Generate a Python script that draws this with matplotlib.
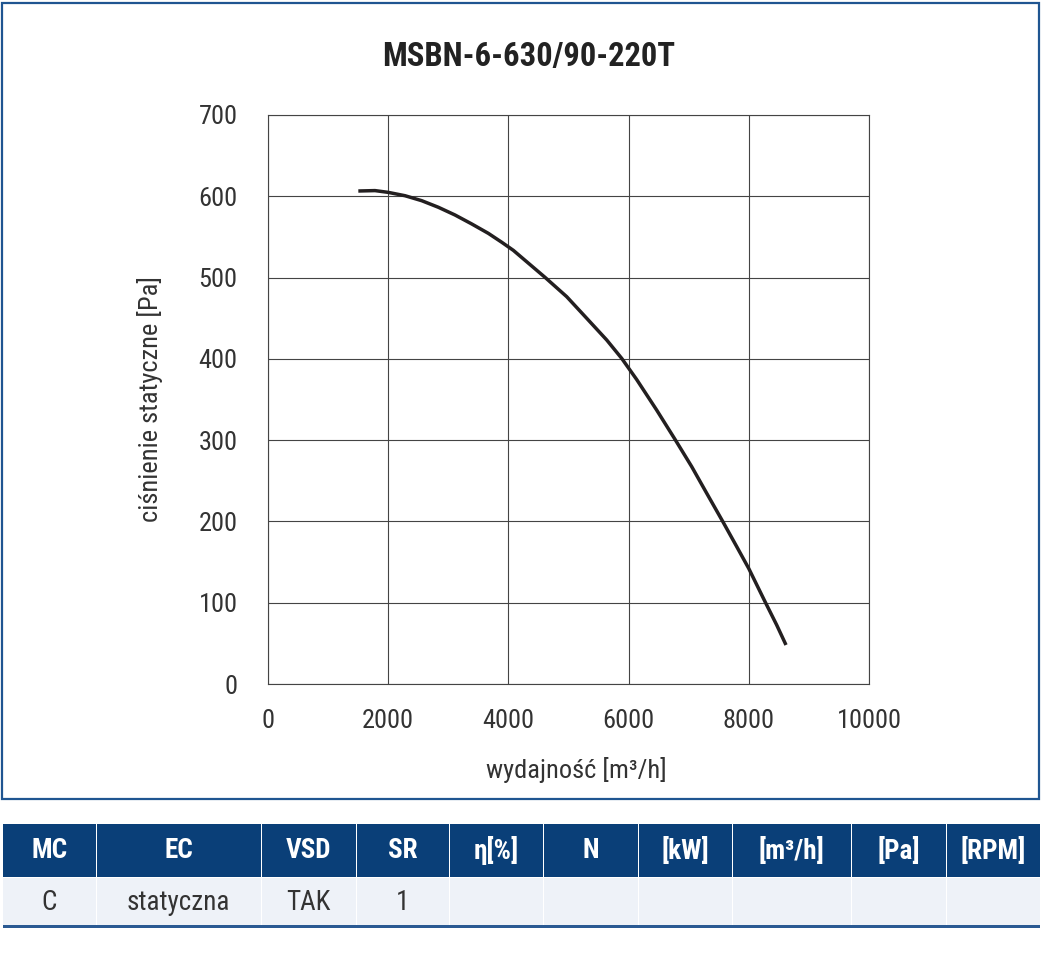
import matplotlib
matplotlib.use("Agg")
import matplotlib.pyplot as plt
import matplotlib.font_manager as fm
from matplotlib.patches import Rectangle

# ---------------- data ----------------
title = "MSBN-6-630/90-220T"
flow = [1503, 1780, 2002, 2280, 2557, 2834, 3111, 3389, 3666, 3888, 4082, 4193,
        4609, 4970, 5303, 5636, 5885, 6135, 6467, 6772, 7050, 7300, 7566, 7799,
        8000, 8270, 8464, 8619]
pressure = [606.5, 607, 604.8, 600.7, 594.6, 586.5, 577, 566, 554.4, 543.5, 533.5, 526.5,
            500.3, 476.5, 449.9, 423.2, 400.6, 374.5, 337, 301, 267.4, 234.6, 200, 169,
            142, 101.3, 72.6, 48]
x_ticks = [0, 2000, 4000, 6000, 8000, 10000]
y_ticks = [0, 100, 200, 300, 400, 500, 600, 700]
x_label = "wydajność [m³/h]"
y_label = "ciśnienie statyczne [Pa]"
table_header = ["MC", "EC", "VSD", "SR", "η[%]", "N", "[kW]", "[m³/h]", "[Pa]", "[RPM]"]
table_row = ["C", "statyczna", "TAK", "1", "", "", "", "", "", ""]

# ---------------- fonts ----------------
names = {f.name for f in fm.fontManager.ttflist}
font = next((n for n in ["Liberation Sans Narrow", "Roboto Condensed", "Open Sans Condensed",
                         "Roboto", "Liberation Sans"] if n in names), "DejaVu Sans")
plt.rcParams["font.family"] = [font, "DejaVu Sans"]

W, H = 1043, 957
fig = plt.figure(figsize=(W / 100, H / 100), dpi=100)

# background overlay in pixel coords
bg = fig.add_axes([0, 0, 1, 1], zorder=0)
bg.set_xlim(0, W)
bg.set_ylim(H, 0)
bg.axis("off")

border_col = "#1f5591"
bg.add_patch(Rectangle((2, 3), 1037, 796, fill=False, edgecolor=border_col, lw=1.6))

# ---------------- chart ----------------
ax = fig.add_axes([268 / W, 1 - 684 / H, (869 - 268) / W, (684 - 115) / H], zorder=1)
grid_col = "#444444"
ax.plot(flow, pressure, color="#231f20", lw=2.5, solid_capstyle="butt",
        solid_joinstyle="round", zorder=3)
ax.set_xlim(0, 10000)
ax.set_ylim(0, 700)
ax.set_xticks(x_ticks)
ax.set_yticks(y_ticks)
ax.grid(True, color=grid_col, lw=0.8)
ax.set_axisbelow(True)
for s in ax.spines.values():
    s.set_color(grid_col)
    s.set_linewidth(0.8)
ax.tick_params(length=0, labelsize=19, colors="#333333")
ax.tick_params(axis="x", pad=18)
ax.tick_params(axis="y", pad=22)
ax.set_xlabel(x_label, fontsize=19, color="#333333", va="center")
ax.xaxis.set_label_coords((576 - 268) / 601, (684 - 770) / 569)
ax.set_ylabel(y_label, fontsize=19, color="#333333", va="center")
ax.yaxis.set_label_coords((150 - 268) / 601, 0.5)

fig.text(529 / W, 1 - 57 / H, title, fontsize=23.5, fontweight="bold", color="#222222",
         ha="center", va="center")

# ---------------- table ----------------
edges = [3, 96, 261, 356, 449, 543, 638, 732, 851, 946, 1040]
head_top, head_bot, row_bot = 824, 877, 925
head_col = "#0a3f78"
row_col = "#eef2f8"
for i, (h, v) in enumerate(zip(table_header, table_row)):
    x0, x1 = edges[i], edges[i + 1]
    gap = 1 if i > 0 else 0
    bg.add_patch(Rectangle((x0 + gap, head_top), x1 - x0 - gap, head_bot - head_top,
                           facecolor=head_col, edgecolor="none"))
    bg.add_patch(Rectangle((x0 + gap, head_bot + 1), x1 - x0 - gap, row_bot - head_bot - 1,
                           facecolor=row_col, edgecolor="none"))
    bg.text((x0 + x1) / 2, (head_top + head_bot) / 2, h, color="white", fontsize=19.5,
            fontweight="bold", ha="center", va="center")
    if v:
        bg.text((x0 + x1) / 2, (head_bot + row_bot) / 2 + 1, v, color="#333333", fontsize=19.5,
                ha="center", va="center")
bg.add_patch(Rectangle((edges[0], row_bot), edges[-1] - edges[0], 3,
                       facecolor="#2a5a93", edgecolor="none"))

fig.savefig("out.png", dpi=100)
